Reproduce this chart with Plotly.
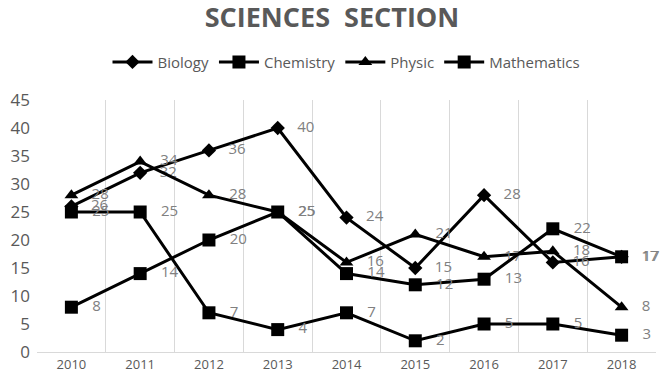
import plotly.graph_objects as go

years = ["2010", "2011", "2012", "2013", "2014", "2015", "2016", "2017", "2018"]
biology = [26, 32, 36, 40, 24, 15, 28, 16, 17]
chemistry = [25, 25, 7, 4, 7, 2, 5, 5, 3]
physic = [28, 34, 28, 25, 16, 21, 17, 18, 8]
mathematics = [8, 14, 20, 25, 14, 12, 13, 22, 17]

series = [
    ("Biology", biology, "diamond", 11),
    ("Chemistry", chemistry, "square", 13),
    ("Physic", physic, "triangle-up", 12),
    ("Mathematics", mathematics, "square", 13),
]

fig = go.Figure()
for name, vals, sym, sz in series:
    fig.add_trace(go.Scatter(
        x=years, y=vals, name=name, mode="lines+markers+text",
        line=dict(color="black", width=3),
        marker=dict(symbol=sym, size=sz, color="black"),
        text=[str(v) for v in vals],
        texttemplate="   %{text}",
        textposition="middle right",
        textfont=dict(family="Liberation Sans Narrow, Open Sans, sans-serif", size=15, color="#808080"),
        cliponaxis=False,
    ))

fig.update_layout(
    width=664, height=382,
    margin=dict(l=37, r=8, t=100, b=30, autoexpand=False),
    paper_bgcolor="white", plot_bgcolor="white",
    title=dict(text="<b>SCIENCES  SECTION</b>", x=0.5, xanchor="center", y=0.955, yanchor="middle",
               font=dict(family="Open Sans, sans-serif", size=27, color="#595959")),
    legend=dict(orientation="h", x=0.5, xanchor="center", y=1.15, yanchor="middle",
                font=dict(family="Liberation Sans Narrow, Open Sans, sans-serif", size=15, color="#595959"),
                itemwidth=40, tracegroupgap=0),
    showlegend=True,
)
fig.update_xaxes(type="category", tickson="boundaries", showgrid=True, gridcolor="#d9d9d9", gridwidth=1,
                 showline=True, linecolor="#d9d9d9", ticks="", zeroline=False, automargin=False,
                 tickfont=dict(family="Open Sans, sans-serif", size=13, color="#595959"),
                 range=[-0.5, 8.5])
fig.update_yaxes(range=[0, 45], dtick=5, showgrid=False, zeroline=False, showline=False, automargin=False,
                 tickfont=dict(family="Liberation Sans Narrow, Open Sans, sans-serif", size=17, color="#595959"),
                 ticklabelstandoff=6)

fig.write_html("out.html", config={"displayModeBar": False},
               post_script="document.body.style.margin='0';document.body.style.padding='0';")
